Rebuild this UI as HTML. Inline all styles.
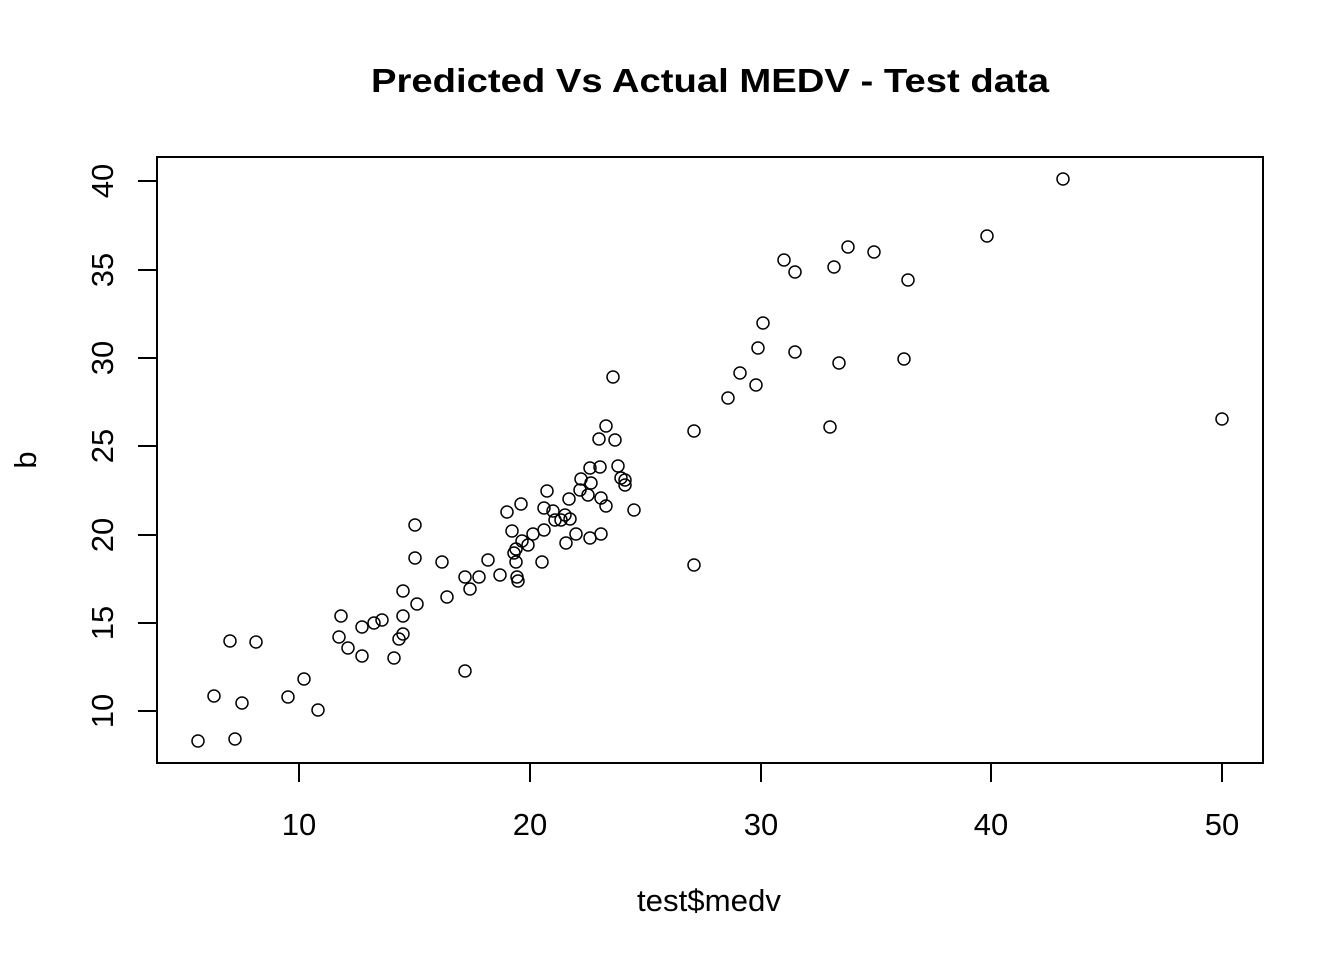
<!DOCTYPE html>
<html><head><style>body{margin:0;background:#fff}svg{display:block}</style></head><body>
<svg width="1344" height="960" xmlns="http://www.w3.org/2000/svg" font-family="Liberation Sans, Arial, sans-serif">
<rect width="1344" height="960" fill="#fff"/>
<text x="710" y="92" text-anchor="middle" font-weight="bold" font-size="33" textLength="678" lengthAdjust="spacingAndGlyphs">Predicted Vs Actual MEDV - Test data</text>
<rect x="157" y="157" width="1106" height="606" fill="none" stroke="#000" stroke-width="2"/>
<g stroke="#000" stroke-width="2">
<line x1="299" y1="763" x2="299" y2="782"/><line x1="530" y1="763" x2="530" y2="782"/><line x1="761" y1="763" x2="761" y2="782"/><line x1="991" y1="763" x2="991" y2="782"/><line x1="1222" y1="763" x2="1222" y2="782"/>
<line x1="138" y1="711" x2="157" y2="711"/><line x1="138" y1="623" x2="157" y2="623"/><line x1="138" y1="535" x2="157" y2="535"/><line x1="138" y1="446" x2="157" y2="446"/><line x1="138" y1="358" x2="157" y2="358"/><line x1="138" y1="270" x2="157" y2="270"/><line x1="138" y1="181" x2="157" y2="181"/>
</g>
<g font-size="31" text-anchor="middle">
<text x="299" y="835">10</text><text x="530" y="835">20</text><text x="761" y="835">30</text><text x="991" y="835">40</text><text x="1222" y="835">50</text>
<text x="709" y="911" textLength="144" lengthAdjust="spacingAndGlyphs">test$medv</text>
<text transform="translate(113,711) rotate(-90)">10</text>
<text transform="translate(113,623) rotate(-90)">15</text>
<text transform="translate(113,535) rotate(-90)">20</text>
<text transform="translate(113,446) rotate(-90)">25</text>
<text transform="translate(113,358) rotate(-90)">30</text>
<text transform="translate(113,270) rotate(-90)">35</text>
<text transform="translate(113,181) rotate(-90)">40</text>
<text transform="translate(36,460) rotate(-90)">b</text>
</g>
<g fill="none" stroke="#000" stroke-width="1.5">
<circle cx="198" cy="741" r="6"/><circle cx="214" cy="696" r="6"/><circle cx="230" cy="641" r="6"/><circle cx="235" cy="739" r="6"/><circle cx="242" cy="703" r="6"/><circle cx="256" cy="642" r="6"/><circle cx="288" cy="697" r="6"/><circle cx="304" cy="679" r="6"/><circle cx="318" cy="710" r="6"/><circle cx="339" cy="637" r="6"/><circle cx="341" cy="616" r="6"/><circle cx="348" cy="648" r="6"/><circle cx="362" cy="627" r="6"/><circle cx="362" cy="656" r="6"/><circle cx="374" cy="623" r="6"/><circle cx="382" cy="620" r="6"/><circle cx="394" cy="658" r="6"/><circle cx="399" cy="639" r="6"/><circle cx="403" cy="591" r="6"/><circle cx="403" cy="634" r="6"/><circle cx="403" cy="616" r="6"/><circle cx="415" cy="525" r="6"/><circle cx="415" cy="558" r="6"/><circle cx="417" cy="604" r="6"/><circle cx="442" cy="562" r="6"/><circle cx="447" cy="597" r="6"/><circle cx="465" cy="577" r="6"/><circle cx="465" cy="671" r="6"/><circle cx="470" cy="589" r="6"/><circle cx="479" cy="577" r="6"/><circle cx="488" cy="560" r="6"/><circle cx="500" cy="575" r="6"/><circle cx="507" cy="512" r="6"/><circle cx="512" cy="531" r="6"/><circle cx="514" cy="553" r="6"/><circle cx="516" cy="549" r="6"/><circle cx="516" cy="562" r="6"/><circle cx="517" cy="577" r="6"/><circle cx="518" cy="581" r="6"/><circle cx="521" cy="504" r="6"/><circle cx="522" cy="541" r="6"/><circle cx="528" cy="545" r="6"/><circle cx="533" cy="534" r="6"/><circle cx="542" cy="562" r="6"/><circle cx="544" cy="508" r="6"/><circle cx="544" cy="530" r="6"/><circle cx="547" cy="491" r="6"/><circle cx="553" cy="511" r="6"/><circle cx="555" cy="520" r="6"/><circle cx="561" cy="520" r="6"/><circle cx="565" cy="515" r="6"/><circle cx="566" cy="543" r="6"/><circle cx="569" cy="499" r="6"/><circle cx="570" cy="519" r="6"/><circle cx="576" cy="534" r="6"/><circle cx="580" cy="490" r="6"/><circle cx="581" cy="479" r="6"/><circle cx="588" cy="495" r="6"/><circle cx="590" cy="468" r="6"/><circle cx="590" cy="538" r="6"/><circle cx="591" cy="483" r="6"/><circle cx="599" cy="439" r="6"/><circle cx="600" cy="467" r="6"/><circle cx="601" cy="534" r="6"/><circle cx="601" cy="498" r="6"/><circle cx="606" cy="506" r="6"/><circle cx="606" cy="426" r="6"/><circle cx="613" cy="377" r="6"/><circle cx="615" cy="440" r="6"/><circle cx="618" cy="466" r="6"/><circle cx="621" cy="478" r="6"/><circle cx="625" cy="485" r="6"/><circle cx="625" cy="480" r="6"/><circle cx="634" cy="510" r="6"/><circle cx="694" cy="431" r="6"/><circle cx="694" cy="565" r="6"/><circle cx="728" cy="398" r="6"/><circle cx="740" cy="373" r="6"/><circle cx="756" cy="385" r="6"/><circle cx="758" cy="348" r="6"/><circle cx="763" cy="323" r="6"/><circle cx="784" cy="260" r="6"/><circle cx="795" cy="272" r="6"/><circle cx="795" cy="352" r="6"/><circle cx="830" cy="427" r="6"/><circle cx="834" cy="267" r="6"/><circle cx="839" cy="363" r="6"/><circle cx="848" cy="247" r="6"/><circle cx="874" cy="252" r="6"/><circle cx="904" cy="359" r="6"/><circle cx="908" cy="280" r="6"/><circle cx="987" cy="236" r="6"/><circle cx="1063" cy="179" r="6"/><circle cx="1222" cy="419" r="6"/>
</g>
</svg>
</body></html>
